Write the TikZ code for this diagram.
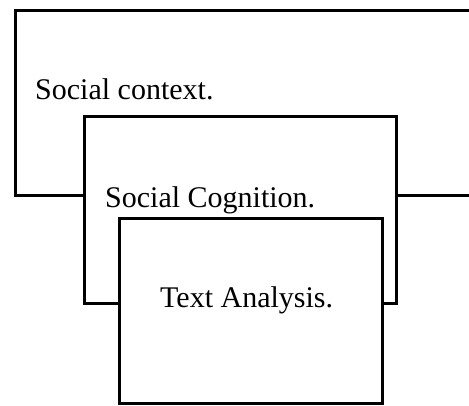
\documentclass[tikz,border=0pt]{standalone}
\usepackage{fontspec}
\setmainfont{Liberation Serif}
\begin{document}
\begin{tikzpicture}[x=1pt,y=-1pt,
  layerbox/.style={draw=black,fill=white,line width=2.6pt,inner sep=0pt,anchor=north west},
  layertext/.style={anchor=base west,inner sep=0pt,font=\fontsize{30}{36}\selectfont}]
\useasboundingbox (0,0) rectangle (469,405);
\begin{scope}
\clip (0,0) rectangle (469,405);
\node[layerbox,minimum width=480pt,minimum height=185pt] (context) at (14,9) {};
\node[layertext] (contextlabel) at (35,99) {Social context.};
\node[layerbox,minimum width=312pt,minimum height=187pt] (cognition) at (83,115) {};
\node[layertext] (cognitionlabel) at (105,207) {Social Cognition.};
\node[layerbox,minimum width=263pt,minimum height=185pt] (analysis) at (118,217) {};
\node[layertext] (analysislabel) at (160,307) {Text Analysis.};
\end{scope}
\end{tikzpicture}
\end{document}
